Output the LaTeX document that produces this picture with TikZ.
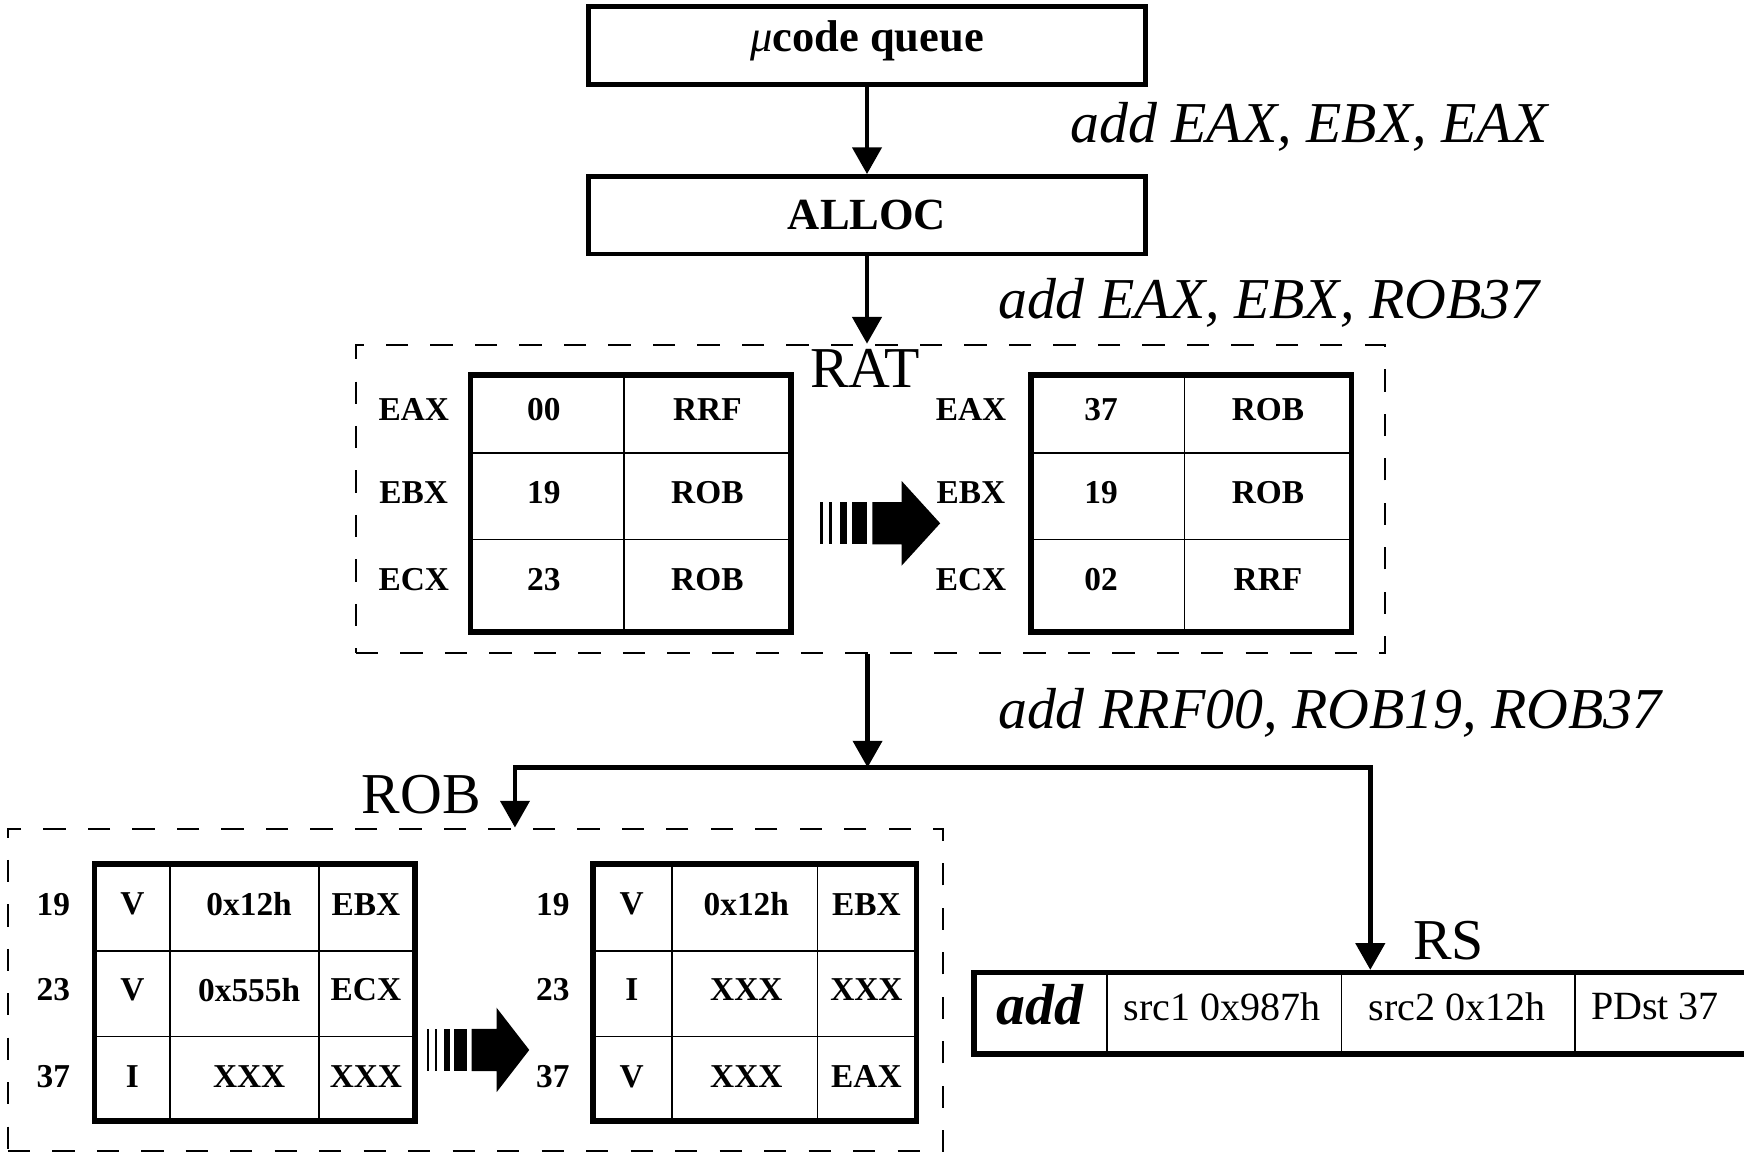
\documentclass[tikz,border=0pt]{standalone}
\usepackage{fontspec}
\setmainfont{Liberation Serif}
\usetikzlibrary{arrows.meta}

\begin{document}
\begin{tikzpicture}[x=0.5pt,y=-0.5pt,
    box/.style={draw,line width=2pt,minimum width=250.5pt,minimum height=35pt,
      font=\fontsize{20}{24}\selectfont\bfseries},
    dashbox/.style={draw,dash pattern=on 10pt off 10pt,line width=1pt,inner sep=0pt},
    tbl/.style={line width=2.5pt},
    cell/.style={line width=0.75pt},
    conn/.style={line width=2pt,-{Triangle[width=13pt,length=12pt]}},
    big/.style={font=\fontsize{26}{30}\selectfont,anchor=base west,inner sep=0pt},
    instr/.style={font=\fontsize{26}{30}\selectfont\itshape,anchor=base west,inner sep=0pt},
    txt/.style={font=\fontsize{15}{18}\selectfont\bfseries},
    rstxt/.style={font=\fontsize{18}{22}\selectfont}]
  \useasboundingbox (0,0) rectangle (1568,1038);

  % ブロック
  \node[box,text depth=9pt] (queue) at (779.5,41) {{\mdseries\itshape μ}code queue};
  \node[box] (alloc) at (779.5,193.5) {ALLOC};
  \draw[conn] (queue) -- (alloc);
  \node[instr] (ins1) at (962,128) {add EAX, EBX, EAX};
  \node[instr] (ins2) at (897,286) {add EAX, EBX, ROB37};

  % RAT
  \node[dashbox,minimum width=462.5pt,minimum height=138.5pt] (rat) at (782.5,448.5) {};
  \node[big] (ratlbl) at (728,348) {RAT};
  \draw[conn] (alloc) -- (alloc |- rat.north);
  \draw[tbl] (423,337) rectangle (711,568);
  \draw[tbl] (927,337) rectangle (1215,568);
  \foreach \dx in {0,504}{
    \draw[cell] (561+\dx,337) -- (561+\dx,568);
    \draw[cell] (423+\dx,407) -- (711+\dx,407);
    \draw[cell] (423+\dx,485) -- (711+\dx,485);
  }
  \foreach \y/\r/\a/\b/\c/\d in {368/EAX/00/RRF/37/ROB, 443/EBX/19/ROB/19/ROB, 521/ECX/23/ROB/02/RRF}{
    \node[txt] (rl-\r) at (372,\y) {\r};
    \node[txt] (rla-\r) at (489,\y) {\a};
    \node[txt] (rlb-\r) at (636,\y) {\b};
    \node[txt] (rr-\r) at (873,\y) {\r};
    \node[txt] (rra-\r) at (990,\y) {\c};
    \node[txt] (rrb-\r) at (1140,\y) {\d};
  }

  % 分岐
  \coordinate (split) at (780,690);
  \coordinate (jl) at (463,690);
  \coordinate (jr) at (1232,690);
  \draw[conn] (split |- rat.south) -- (split);
  \node[instr] (ins3) at (897,655) {add RRF00, ROB19, ROB37};

  % ROB
  \node[dashbox,minimum width=420.5pt,minimum height=145pt] (rob) at (427.5,890) {};
  \node[big] (roblbl) at (325,731) {ROB};
  \draw[tbl] (85,777) rectangle (373,1008);
  \draw[tbl] (533,777) rectangle (824,1008);
  \foreach \a/\b/\l/\r in {153/287/85/373, 604/735/533/824}{
    \draw[cell] (\a,777) -- (\a,1008);
    \draw[cell] (\b,777) -- (\b,1008);
    \draw[cell] (\l,855) -- (\r,855);
    \draw[cell] (\l,932) -- (\r,932);
  }
  \foreach \y/\n/\a/\b/\c/\d/\e/\f in {813/19/V/0x12h/EBX/V/0x12h/EBX,
      890/23/V/0x555h/ECX/I/XXX/XXX, 968/37/I/XXX/XXX/V/XXX/EAX}{
    \node[txt] (ol-\n) at (48,\y) {\n};
    \node[txt] (ola-\n) at (119,\y) {\a};
    \node[txt] (olb-\n) at (224,\y) {\b};
    \node[txt] (olc-\n) at (329,\y) {\c};
    \node[txt] (or-\n) at (497,\y) {\n};
    \node[txt] (ora-\n) at (568,\y) {\d};
    \node[txt] (orb-\n) at (671,\y) {\e};
    \node[txt] (orc-\n) at (779,\y) {\f};
  }

  % RS
  \node[draw,tbl,minimum width=352.25pt,minimum height=36.5pt,inner sep=0pt] (rs) at (1227.75,911) {};
  \node[big] (rslbl) at (1270,863) {RS};
  \draw[cell] (995,874) -- (995,948);
  \draw[cell] (1206,874) -- (1206,948);
  \draw[cell] (1416,874) -- (1416,948);
  \node[font=\fontsize{26}{30}\selectfont\bfseries\itshape] (rs-op) at (935,903) {add};
  \node[rstxt] (rs-s1) at (1099,905) {src1 0x987h};
  \node[rstxt] (rs-s2) at (1310,905) {src2 0x12h};
  \node[rstxt] (rs-d) at (1488,905) {PDst 37};

  % 配線
  \draw[line width=2pt,{Triangle[width=13pt,length=12pt]}-{Triangle[width=13pt,length=12pt]}]
    (jl |- rob.north) -- (jl) -- (jr) -- (jr |- rs.north);

  % 太い矢印
  \foreach \px/\py/\s in {784.3/470.5/1, 424/944/0.85}{
    \begin{scope}[shift={(\px,\py)},xscale=\s]
      \fill (0,-19) -- (26.4,-19) -- (26.4,-38) -- (61,0) -- (26.4,38) -- (26.4,19) -- (0,19) -- cycle;
      \fill (-18.5,-19) rectangle (-4.5,19);
      \fill (-29,-19) rectangle (-23,19);
      \fill (-38.9,-19) rectangle (-36.3,19);
      \fill (-47,-19) rectangle (-44.6,19);
    \end{scope}
  }
\end{tikzpicture}
\end{document}
